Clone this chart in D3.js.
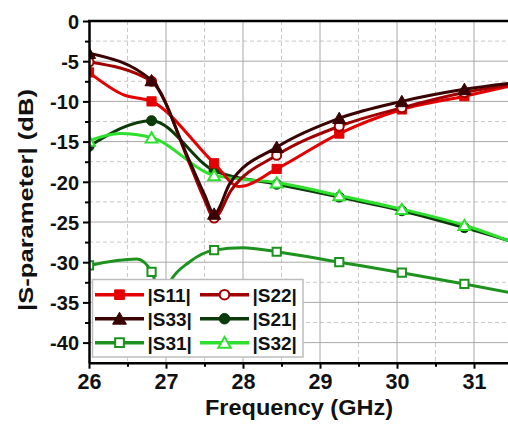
<!DOCTYPE html>
<html lang="en">
  <head>
    <meta charset="utf-8">
    <script src="https://d3js.org/d3.v7.min.js"></script>
    <style>
      body { margin: 0; background: #fff; }
      text { font-family: "Liberation Sans", Arial, sans-serif; font-weight: bold; }
    </style>
  </head>
  <body>
    <svg width="508" height="425"></svg>
    <script>
      // frequencies of the markers (GHz), last one sits past the right edge
      var freqs = [26, 26.8125, 27.625, 28.4375, 29.25, 30.0625, 30.875, 31.6875];
      var s11 = [-6.4, -10.0, -17.7, -18.4, -14.0, -11.0, -9.35, -7.6];
      var s22 = [-5.1, -7.5, -24.5, -16.7, -13.1, -10.8, -8.9, -7.6];
      var s33 = [-4.0, -7.4, -24.0, -15.7, -12.1, -10.0, -8.5, -7.5];
      var s21 = [-15.6, -12.4, -18.6, -20.3, -21.9, -23.6, -25.7, -28.0];
      var s31 = [-30.4, -31.2, -28.5, -28.7, -30.0, -31.3, -32.7, -34.2];
      var s32 = [-14.9, -14.5, -19.2, -20.1, -21.7, -23.4, -25.4, -28.2];
      // extra points on the curves between markers
      var s11Curve = [[26.45, -9.2], [27.95, -20.6]];
      var s22Curve = [[27.3, -17.6], [27.5, -22.2], [27.85, -21.0]];
      var s33Curve = [[27.3, -17.3], [27.5, -21.6], [27.83, -20.2]];
      var s31Curve = [[26.62, -29.6], [26.95, -34.5], [27.06, -32.3], [27.3, -30.0], [28.0, -28.2]];
      var s32Curve = [[26.4, -14.0]];

      var xTicks = [26, 27, 28, 29, 30, 31];
      var yTicks = [0, -5, -10, -15, -20, -25, -30, -35, -40];

      var svg = d3.select("svg");
      var plotLeft = 89, plotTop = 21, plotBottom = 362.7;

      var x = d3.scaleLinear().domain([26, 32.5]).range([plotLeft, plotLeft + 6.5 * 77]);
      var y = d3.scaleLinear().domain([0, -42.5]).range([plotTop, plotBottom]);

      var xMinor = d3.range(26.5, 32, 1);
      var yMinor = d3.range(-2.5, -42.5, -5);

      // grid
      var grid = svg.append("g");
      grid.selectAll(".gxm").data(xMinor).enter().append("line")
        .attr("x1", d => x(d)).attr("x2", d => x(d)).attr("y1", plotTop).attr("y2", plotBottom)
        .attr("stroke", "#c8c8c8").attr("stroke-dasharray", "4,3");
      grid.selectAll(".gym").data(yMinor).enter().append("line")
        .attr("x1", plotLeft).attr("x2", 508).attr("y1", d => y(d)).attr("y2", d => y(d))
        .attr("stroke", "#c8c8c8").attr("stroke-dasharray", "4,3");
      grid.selectAll(".gx").data(xTicks.slice(1)).enter().append("line")
        .attr("x1", d => x(d)).attr("x2", d => x(d)).attr("y1", plotTop).attr("y2", plotBottom)
        .attr("stroke", "#a8a8a8");
      grid.selectAll(".gy").data(yTicks.slice(1)).enter().append("line")
        .attr("x1", plotLeft).attr("x2", 508).attr("y1", d => y(d)).attr("y2", d => y(d))
        .attr("stroke", "#a8a8a8");

      svg.append("clipPath").attr("id", "plot")
        .append("rect").attr("x", plotLeft).attr("y", plotTop).attr("width", 600).attr("height", plotBottom - plotTop);

      var series = [
        {name: "|S31|", vals: s31, extra: s31Curve, color: "#1e921e", shape: "square", open: true},
        {name: "|S21|", vals: s21, extra: [], color: "#0b3a0b", shape: "circle", open: false},
        {name: "|S32|", vals: s32, extra: s32Curve, color: "#2ee02e", shape: "triangle", open: true},
        {name: "|S11|", vals: s11, extra: s11Curve, color: "#e40000", shape: "square", open: false},
        {name: "|S22|", vals: s22, extra: s22Curve, color: "#a00000", shape: "circle", open: true},
        {name: "|S33|", vals: s33, extra: s33Curve, color: "#3a0303", shape: "triangle", open: false}
      ];

      var symbols = {square: d3.symbolSquare, circle: d3.symbolCircle, triangle: d3.symbolTriangle};
      var sizes = {square: 85, circle: 80, triangle: 75};

      var line = d3.line().x(d => x(d[0])).y(d => y(d[1])).curve(d3.curveMonotoneX);

      var plot = svg.append("g").attr("clip-path", "url(#plot)");
      series.forEach(function(s) {
        var pts = freqs.map((f, i) => [f, s.vals[i]]).concat(s.extra)
          .sort((a, b) => a[0] - b[0]);
        plot.append("path").datum(pts)
          .attr("d", line)
          .attr("fill", "none")
          .attr("stroke", s.color)
          .attr("stroke-width", 3);
        plot.selectAll(null).data(freqs.map((f, i) => [f, s.vals[i]])).enter().append("path")
          .attr("d", d3.symbol().type(symbols[s.shape]).size(s.open ? sizes[s.shape] * 0.8 : sizes[s.shape]))
          .attr("transform", d => "translate(" + x(d[0]) + "," + (y(d[1]) + (s.shape == "triangle" ? 1.5 : 0)) + ")")
          .attr("fill", s.open ? "#fff" : s.color)
          .attr("stroke", s.color)
          .attr("stroke-width", s.open ? 2 : 1);
      });

      // axes
      var yAxis = svg.append("g").attr("transform", "translate(" + plotLeft + ",0)")
        .call(d3.axisLeft(y).tickValues(yTicks).tickSize(6).tickSizeOuter(0).tickPadding(4)
          .tickFormat(d => String(d)));
      svg.append("g").attr("transform", "translate(" + plotLeft + ",0)")
        .call(d3.axisLeft(y).tickValues(yMinor).tickSize(4).tickFormat("")).select(".domain").remove();
      var xAxis = svg.append("g").attr("transform", "translate(0," + plotBottom + ")")
        .call(d3.axisBottom(x).tickValues(xTicks).tickSize(6).tickSizeOuter(0).tickPadding(5)
          .tickFormat(d => String(d)));
      svg.append("g").attr("transform", "translate(0," + plotBottom + ")")
        .call(d3.axisBottom(x).tickValues(xMinor).tickSize(4).tickFormat("")).select(".domain").remove();

      svg.selectAll(".tick line").attr("stroke", "#000").attr("stroke-width", 2);
      svg.selectAll(".domain").attr("stroke", "#000").attr("stroke-width", 2.5);
      yAxis.selectAll("text").attr("font-size", 20).attr("fill", "#111").attr("dy", "0.36em");
      xAxis.selectAll("text").attr("font-size", 21.5).attr("fill", "#111");

      svg.append("line").attr("x1", plotLeft - 1).attr("x2", 508).attr("y1", plotTop).attr("y2", plotTop)
        .attr("stroke", "#000").attr("stroke-width", 2.5);

      // axis titles
      svg.append("text").attr("x", 299).attr("y", 415).attr("text-anchor", "middle")
        .attr("font-size", 22).attr("textLength", 188).attr("lengthAdjust", "spacingAndGlyphs")
        .attr("fill", "#111").text("Frequency (GHz)");
      svg.append("text").attr("transform", "translate(33,200) rotate(-90)").attr("text-anchor", "middle")
        .attr("font-size", 21).attr("textLength", 222).attr("lengthAdjust", "spacingAndGlyphs")
        .attr("fill", "#111").text("|S-parameter| (dB)");

      // legend
      var legendOrder = ["|S11|", "|S22|", "|S33|", "|S21|", "|S31|", "|S32|"];
      var leg = svg.append("g");
      leg.append("rect").attr("x", 92.5).attr("y", 279.5).attr("width", 210.5).attr("height", 77.5)
        .attr("fill", "#fff").attr("stroke", "#bdbdbd").attr("stroke-width", 1.5);
      legendOrder.forEach(function(name, i) {
        var s = series.find(d => d.name == name);
        var col = i % 2, row = Math.floor(i / 2);
        var x0 = col == 0 ? 95 : 200, yc = 294.7 + row * 24;
        leg.append("line").attr("x1", x0).attr("x2", x0 + 49).attr("y1", yc).attr("y2", yc)
          .attr("stroke", s.color).attr("stroke-width", 3.5);
        leg.append("path")
          .attr("d", d3.symbol().type(symbols[s.shape]).size(s.open ? sizes[s.shape] * 0.9 : sizes[s.shape] * 1.1))
          .attr("transform", "translate(" + (x0 + 24.5) + "," + (yc + (s.shape == "triangle" ? 1.5 : 0)) + ")")
          .attr("fill", s.open ? "#fff" : s.color)
          .attr("stroke", s.color)
          .attr("stroke-width", s.open ? 2 : 1);
        leg.append("text").attr("x", x0 + 52.5).attr("y", yc + 7).attr("font-size", 19)
          .attr("fill", "#111").text(name);
      });
    </script>
  </body>
</html>
